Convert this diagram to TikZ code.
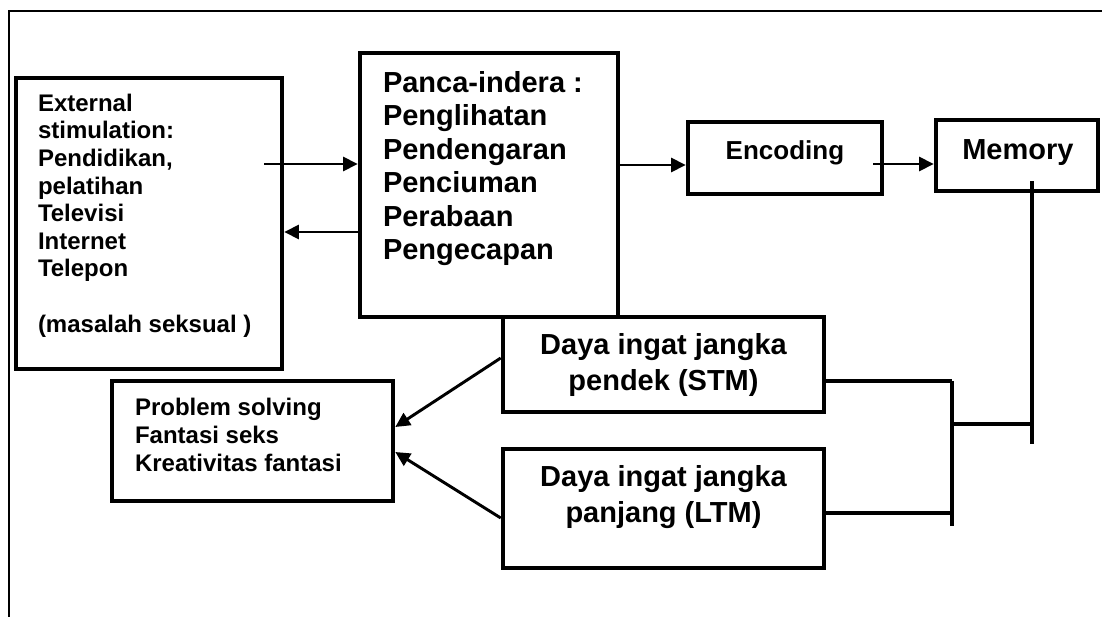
\documentclass[tikz,border=0pt]{standalone}
\usepackage{fontspec}
\setmainfont{Liberation Sans}
\usetikzlibrary{arrows.meta,calc}
\newdimen\px \px=0.75pt
\begin{document}
\begin{tikzpicture}[x=0.75pt,y=-0.75pt,
  box/.style={draw,line width=3.4pt,inner sep=0pt},
  txt/.style={inner sep=0pt,outer sep=0pt},
  arr/.style={line width=2.2pt,-{Triangle[length=11pt,width=10.5pt]}},
  conn/.style={line width=2.3pt},
  frame/.style={line width=1.6pt}]
\useasboundingbox (0,0) rectangle (1103,617);
% outer frame
\draw[frame] (9,617) -- (9,11) -- (1102,11);
% boxes
\node[box,minimum width=266\px,minimum height=291\px] (ext) at (149,223.5) {};
\node[box,minimum width=258\px,minimum height=264\px] (panca) at (489,185) {};
\node[box,minimum width=194\px,minimum height=72\px] (enc) at (785,158) {};
\node[box,minimum width=162\px,minimum height=71\px] (mem) at (1017,155.5) {};
\node[box,minimum width=321\px,minimum height=95\px] (stm) at (663.5,364.5) {};
\node[box,minimum width=321\px,minimum height=119\px] (ltm) at (663.5,508.5) {};
\node[box,minimum width=281\px,minimum height=120\px] (prob) at (252.5,441) {};
% texts (base anchor = baseline of the last line)
\node[txt,anchor=base west,align=left,font=\fontsize{18}{20.7}\selectfont\bfseries] (extt) at (38,332)
  {External\\stimulation:\\Pendidikan,\\pelatihan\\Televisi\\Internet\\Telepon\\[20.7pt](masalah seksual )};
\node[txt,anchor=base west,align=left,font=\fontsize{21.75}{25.1}\selectfont\bfseries] (pancat) at (383,259.5)
  {Panca-indera :\\Penglihatan\\Pendengaran\\Penciuman\\Perabaan\\Pengecapan};
\node[txt,anchor=base west,font=\fontsize{19.5}{22}\selectfont\bfseries] (enct) at (725.7,159.3) {Encoding};
\node[txt,anchor=base west,font=\fontsize{21.75}{25}\selectfont\bfseries] (memt) at (962.3,159.3) {Memory};
\node[txt,anchor=base,align=center,font=\fontsize{21.75}{26.8}\selectfont\bfseries] (stmt) at (663.5,390.7)
  {Daya ingat jangka\\pendek (STM)};
\node[txt,anchor=base,align=center,font=\fontsize{21.75}{26.8}\selectfont\bfseries] (ltmt) at (663.5,522.7)
  {Daya ingat jangka\\panjang (LTM)};
\node[txt,anchor=base west,align=left,font=\fontsize{18}{21}\selectfont\bfseries] (probt) at (135,471)
  {Problem solving\\Fantasi seks\\Kreativitas fantasi};
% arrows
\coordinate (a1s) at (264,164);
\draw[arr] (a1s) -- (a1s -| panca.west);
\coordinate (a2s) at ($(panca.west)+(0,47)$);
\draw[arr] (a2s) -- (a2s -| ext.east);
\coordinate (a3s) at ($(panca.east)+(0,-20)$);
\draw[arr] (a3s) -- (a3s -| enc.west);
\coordinate (a4s) at (873,164);
\draw[arr] (a4s) -- (a4s -| mem.west);
\draw[arr] ($(stm.west)+(0,-6.5)$) -- ($(prob.east)+(0,-14)$);
\draw[arr] ($(ltm.west)+(0,9.5)$) -- ($(prob.east)+(0,11)$);
% memory connectors
\coordinate (memtop) at (1032,181);
\coordinate (membot) at (1032,444);
\draw[conn] (memtop) -- (membot);
\coordinate (busT) at (952,381);
\coordinate (busB) at (952,526);
\coordinate (busM) at (952,424);
\coordinate (ltmL) at (952,513);
\draw[conn] (busT) -- (busB);
\draw[conn] (busT -| stm.east) -- (busT);
\draw[conn] (ltmL -| ltm.east) -- (ltmL);
\draw[conn] (busM) -- (busM -| membot);
\end{tikzpicture}
\end{document}
